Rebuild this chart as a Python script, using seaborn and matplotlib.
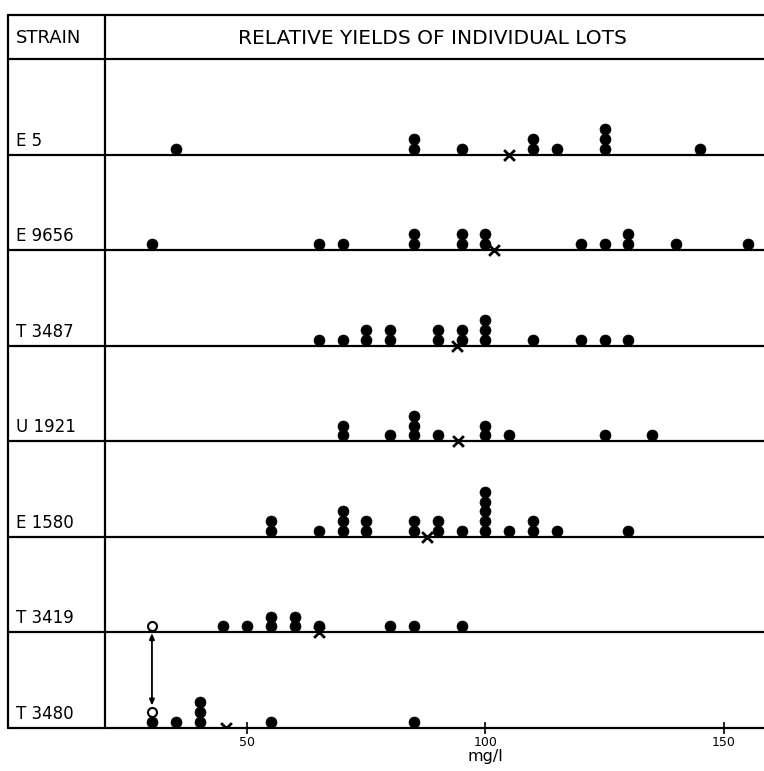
import numpy as np
import pandas as pd
import matplotlib
matplotlib.use("Agg")
import matplotlib.pyplot as plt
import seaborn as sns

# ---- data ----
strains = ["E 5", "E 9656", "T 3487", "U 1921", "E 1580", "T 3419", "T 3480"]
yields_E5 = [35, 85, 85, 95, 110, 110, 115, 125, 125, 125, 145]
yields_E9656 = [30, 65, 70, 85, 85, 95, 95, 100, 100, 120, 125, 130, 130, 140, 155]
yields_T3487 = [65, 70, 75, 75, 80, 80, 90, 90, 95, 95, 100, 100, 100, 110, 120, 125, 130]
yields_U1921 = [70, 70, 80, 85, 85, 85, 90, 100, 100, 105, 125, 135]
yields_E1580 = [55, 55, 65, 70, 70, 70, 75, 75, 85, 85, 90, 90, 95,
                100, 100, 100, 100, 100, 105, 110, 110, 115, 130]
yields_T3419 = [45, 50, 55, 55, 60, 60, 65, 80, 85, 95]
yields_T3480 = [30, 35, 40, 40, 40, 55, 85]
mean_yields = [105, 101.7, 94.1, 94.2, 87.8, 65, 45.5]
open_strains = ["T 3419", "T 3480"]
open_values = [30, 30]
x_ticks = [50, 100, 150]
x_label = "mg/l"
header_left = "STRAIN"
header_title = "RELATIVE YIELDS OF INDIVIDUAL LOTS"

all_yields = [yields_E5, yields_E9656, yields_T3487, yields_U1921,
              yields_E1580, yields_T3419, yields_T3480]

# ---- build stacked dot table ----
n_rows = len(strains)
first_off = 0.063   # centre of lowest dot above row line (row units)
step = 0.102        # spacing between stacked dots

rows = []
stack_count = {}
for i, (s, vals) in enumerate(zip(strains, all_yields)):
    base = n_rows - 1 - i
    for v in vals:
        k = stack_count.get((s, v), 0)
        stack_count[(s, v)] = k + 1
        rows.append({"strain": s, "value": v, "y": base + first_off + k * step})
dots = pd.DataFrame(rows)

open_rows = []
for s, v in zip(open_strains, open_values):
    i = strains.index(s)
    base = n_rows - 1 - i
    k = stack_count.get((s, v), 0)
    stack_count[(s, v)] = k + 1
    open_rows.append({"strain": s, "value": v, "y": base + first_off + k * step})
opens = pd.DataFrame(open_rows)

means = pd.DataFrame({"strain": strains, "value": mean_yields,
                      "y": [n_rows - 1 - i for i in range(n_rows)]})

# ---- figure ----
sns.set_style("white")
plt.rcParams["font.family"] = ["DejaVu Sans"]
plt.rcParams["text.color"] = "black"
plt.rcParams["xtick.color"] = "black"
plt.rcParams["axes.labelcolor"] = "black"

W, H = 764, 771
fig = plt.figure(figsize=(W / 100, H / 100), dpi=100)

# background axes in pixel coordinates for the table frame
bg = fig.add_axes([0, 0, 1, 1])
bg.set_xlim(0, W)
bg.set_ylim(H, 0)
bg.axis("off")

top_y, head_y, bot_y = 15, 59, 728
left_x, div_x = 8, 105
lw = 1.6
row_h = (bot_y - head_y) / n_rows
bg.plot([left_x, W], [top_y, top_y], color="black", lw=lw)
for i in range(n_rows + 1):
    yy = head_y + i * row_h
    bg.plot([left_x, W], [yy, yy], color="black", lw=lw)
bg.plot([left_x, left_x], [top_y, bot_y], color="black", lw=lw)
bg.plot([div_x, div_x], [top_y, bot_y], color="black", lw=lw)

bg.text(16, 38, header_left, fontsize=13, ha="left", va="center", color="black")
bg.text(432, 38, header_title, fontsize=14.5, ha="center", va="center", color="black")
for i, s in enumerate(strains):
    yy = head_y + (i + 1) * row_h
    bg.text(16, yy - 5, s, fontsize=12, ha="left", va="bottom", color="black")

# data axes
px0, slope = 9.0, 4.765
xmin = (div_x - px0) / slope
xmax = (W - px0) / slope
ax = fig.add_axes([div_x / W, (H - bot_y) / H, (W - div_x) / W, (bot_y - head_y) / H])
ax.set_xlim(xmin, xmax)
ax.set_ylim(0, n_rows)
ax.patch.set_visible(False)
for sp in ax.spines.values():
    sp.set_visible(False)

sns.scatterplot(data=dots, x="value", y="y", color="black", s=62,
                edgecolor="black", linewidth=0.5, ax=ax, legend=False, zorder=3)
sns.scatterplot(data=opens, x="value", y="y", color="white", s=42,
                edgecolor="black", linewidth=1.5, ax=ax, legend=False, zorder=4)
sns.scatterplot(data=means, x="value", y="y", color="black", marker="x",
                s=60, linewidth=2.0, ax=ax, legend=False, zorder=4)

# arrow linking the open circles
top_o = opens.iloc[0]
bot_o = opens.iloc[1]
ax.annotate("", xy=(bot_o["value"], bot_o["y"] + 0.07),
            xytext=(top_o["value"], top_o["y"] - 0.07),
            arrowprops=dict(arrowstyle="<|-|>,head_length=0.35,head_width=0.15",
                            color="black", lw=1.3, shrinkA=0, shrinkB=0))

ax.set_yticks([])
ax.set_xticks(x_ticks)
ax.set_xticklabels([str(t) for t in x_ticks])
ax.tick_params(axis="x", direction="inout", length=8, width=1.2, color="black",
               labelsize=9, pad=2, bottom=True, labelcolor="black")
ax.set_xlabel("")
ax.set_ylabel("")

bg.text(slope * 100 + px0, 757, x_label, fontsize=11.5, ha="center", va="center",
        color="black")

fig.savefig("out.png", dpi=100)
